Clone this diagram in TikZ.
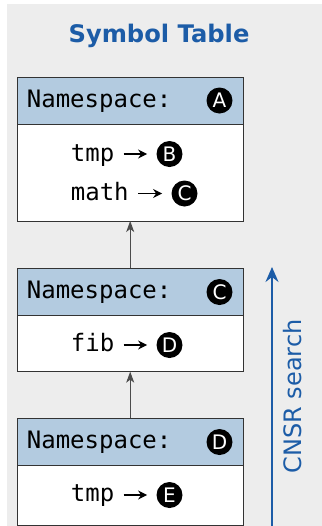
\documentclass[tikz,border=0pt]{standalone}
\usepackage{fontspec}
\setsansfont{DejaVu Sans}
\setmonofont{DejaVu Sans Mono}
\usetikzlibrary{positioning, arrows.meta}

\definecolor{bggray}{HTML}{EDEDED}
\definecolor{headblue}{HTML}{B3CBE0}
\definecolor{tableblue}{HTML}{1C5CA7}

\begin{document}
\begin{tikzpicture}[x=0.5pt,y=-0.5pt,
    header/.style={draw=black!80,fill=headblue,minimum width=113.15pt,minimum height=23.5pt,inner sep=0pt,outer sep=0pt},
    entries/.style={draw=black!80,fill=white,minimum width=113.15pt,inner sep=0pt,outer sep=0pt},
    nstext/.style={font=\ttfamily\fontsize{12}{14}\selectfont,inner sep=0pt,anchor=base west},
    idmark/.style={shape=circle,fill=black,text=white,minimum size=13pt,inner sep=0pt,font=\sffamily\fontsize{10}{11}\selectfont},
    link/.style={draw=black!70,line width=0.5pt,-{Stealth[length=5.5pt,width=4pt,inset=1.5pt]}},
    ptr/.style={draw=black,line width=0.7pt,shorten <=4.5pt,shorten >=4.5pt,-{Stealth[length=4.5pt,width=4.5pt,inset=1.5pt]}}]
    % Background and title
    \useasboundingbox (0,0) rectangle (322,526);
    \fill[bggray] (7,4) rectangle (322,526);
    \node[text=tableblue,font=\sffamily\bfseries\fontsize{12.1}{14}\selectfont] (title) at (159,36) {Symbol Table};
    % Namespace A
    \node[header] (hA) at (130.2,100.5) {};
    \node[entries,minimum height=48.5pt,below=0pt of hA] (bA) {};
    \node[nstext] (nsA) at (26.5,107.5) {Namespace:};
    \node[idmark] (idA) at (219.5,100.5) {A};
    \node[nstext] (tmpA) at (70.5,161) {tmp};
    \node[idmark] (idB) at (169.5,154) {B};
    \node[nstext] (mathA) at (70.5,200.5) {math};
    \node[idmark] (idC) at (184.5,193.5) {C};
    \draw[ptr] (tmpA.east |- idB) -- (idB);
    \draw[ptr] (mathA.east |- idC) -- (idC);
    % Namespace C
    \node[header,minimum height=23.85pt] (hC) at (130.2,291.8) {};
    \node[entries,minimum height=28pt,below=0pt of hC] (bC) {};
    \node[nstext] (nsC) at (26.5,298.5) {Namespace:};
    \node[idmark] (idC2) at (219.5,292) {C};
    \node[nstext] (fibC) at (70.5,351.7) {fib};
    \node[idmark] (idD) at (169.5,345) {D};
    \draw[ptr] (fibC.east |- idD) -- (idD);
    % Namespace D
    \node[header,minimum height=23.7pt] (hD) at (130.2,442) {};
    \node[entries,minimum height=29.8pt,below=0pt of hD] (bD) {};
    \node[nstext] (nsD) at (26.5,448.5) {Namespace:};
    \node[idmark] (idD2) at (219.5,442) {D};
    \node[nstext] (tmpD) at (70.5,501.5) {tmp};
    \node[idmark] (idE) at (169.5,495) {E};
    \draw[ptr] (tmpD.east |- idE) -- (idE);
    % Parent links
    \draw[link] (hC.north) -- (bA.south);
    \draw[link] (hD.north) -- (bC.south);
    % Search direction
    \coordinate (srchS) at (272,526);
    \coordinate (srchE) at (272,267);
    \draw[tableblue,line width=1pt,-{Stealth[length=7.5pt,width=6.5pt,inset=2.5pt]}] (srchS) -- node[midway,sloped,below=5pt,inner sep=0pt,font=\sffamily\fontsize{12}{14}\selectfont] (srchL) {CNSR search} (srchE);
\end{tikzpicture}
\end{document}
